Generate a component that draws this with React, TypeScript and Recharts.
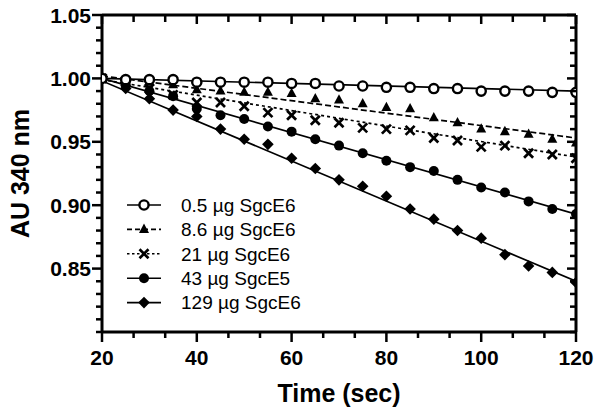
import React from 'react';
import { ComposedChart, Line, Scatter, XAxis, YAxis, Legend } from 'recharts';

const times = [20, 25, 30, 35, 40, 45, 50, 55, 60, 65, 70, 75, 80, 85, 90, 95, 100, 105, 110, 115, 120];
const open05 = [1.0, 0.999, 0.999, 0.999, 0.997, 0.997, 0.997, 0.997, 0.996, 0.996, 0.994, 0.994, 0.993, 0.993, 0.992, 0.992, 0.99, 0.99, 0.99, 0.989, 0.989];
const tri86 = [1.0, 0.999, 0.997, 0.995, 0.991, 0.99, 0.989, 0.989, 0.988, 0.984, 0.983, 0.98, 0.977, 0.976, 0.969, 0.965, 0.96, 0.958, 0.956, 0.952, 0.949];
const cross21 = [1.0, 0.997, 0.992, 0.987, 0.981, 0.981, 0.978, 0.973, 0.971, 0.967, 0.965, 0.961, 0.96, 0.959, 0.953, 0.951, 0.946, 0.947, 0.941, 0.94, 0.937];
const dot43 = [1.0, 0.995, 0.99, 0.986, 0.976, 0.971, 0.968, 0.962, 0.958, 0.952, 0.947, 0.941, 0.935, 0.93, 0.927, 0.92, 0.914, 0.91, 0.903, 0.897, 0.893];
const diam129 = [1.0, 0.992, 0.984, 0.975, 0.97, 0.96, 0.952, 0.948, 0.937, 0.929, 0.92, 0.915, 0.907, 0.897, 0.889, 0.88, 0.874, 0.861, 0.852, 0.847, 0.839];

const fitTimes = [20, 120];
const fit05 = [1.0, 0.99];
const fit86 = [1.002, 0.953];
const fit21 = [0.999, 0.938];
const fit43 = [1.0, 0.893];
const fit129 = [0.998, 0.84];

const seriesNames = ['0.5 µg SgcE6', '8.6 µg SgcE6', '21 µg SgcE6', '43 µg SgcE5', '129 µg SgcE6'];

const xMajorTicks = [20, 40, 60, 80, 100, 120];
const xAllTicks = [20, 26.667, 33.333, 40, 46.667, 53.333, 60, 66.667, 73.333, 80, 86.667, 93.333, 100, 106.667, 113.333, 120];
const yMajorTicks = [0.85, 0.9, 0.95, 1.0, 1.05];
const yAllTicks = [0.8, 0.81, 0.82, 0.83, 0.84, 0.85, 0.86, 0.87, 0.88, 0.89, 0.9, 0.91, 0.92, 0.93, 0.94, 0.95, 0.96, 0.97, 0.98, 0.99, 1.0, 1.01, 1.02, 1.03, 1.04, 1.05];

const FONT = '"Liberation Sans", Arial, Helvetica, sans-serif';
const AXW = 3;

const toPts = (xs: number[], ys: number[]) => xs.map((x, i) => ({ x, y: ys[i] }));

const isMajor = (v: number, majors: number[]) => majors.some((m) => Math.abs(m - v) < 1e-6);

type MarkerKind = 'open' | 'tri' | 'cross' | 'dot' | 'diam';

const Marker = ({ kind, cx, cy }: { kind: MarkerKind; cx: number; cy: number }) => {
  if (cx == null || cy == null || isNaN(cx) || isNaN(cy)) return null;
  switch (kind) {
    case 'open':
      return <circle cx={cx} cy={cy} r={4.6} fill="#fff" stroke="#000" strokeWidth={2.4} />;
    case 'tri':
      return <polygon points={`${cx},${cy - 5.8} ${cx - 5},${cy + 3.5} ${cx + 5},${cy + 3.5}`} fill="#000" />;
    case 'cross':
      return (
        <g stroke="#000" strokeWidth={2.7}>
          <line x1={cx - 4.5} y1={cy - 4.5} x2={cx + 4.5} y2={cy + 4.5} />
          <line x1={cx - 4.5} y1={cy + 4.5} x2={cx + 4.5} y2={cy - 4.5} />
        </g>
      );
    case 'dot':
      return <circle cx={cx} cy={cy} r={5} fill="#000" />;
    case 'diam':
    default:
      return <polygon points={`${cx},${cy - 5.8} ${cx + 5.8},${cy} ${cx},${cy + 5.8} ${cx - 5.8},${cy}`} fill="#000" />;
  }
};

const shapeFor = (kind: MarkerKind) => (props: any) => <Marker kind={kind} cx={props.cx} cy={props.cy} />;

const LeftTick = (props: any) => {
  const { x, y, payload } = props;
  const v = payload.value;
  const major = isMajor(v, yMajorTicks);
  return (
    <g>
      <line x1={x - (major ? 10 : 6)} x2={x} y1={y} y2={y} stroke="#000" strokeWidth={2.5} />
      {major && (
        <text x={x - 11} y={y} dy="0.36em" textAnchor="end" fontFamily={FONT} fontWeight="bold" fontSize={21} fill="#000">
          {v.toFixed(2)}
        </text>
      )}
    </g>
  );
};

const RightTick = (props: any) => {
  const { x, y, payload } = props;
  const major = isMajor(payload.value, yMajorTicks);
  return <line x1={x - (major ? 9 : 6)} x2={x} y1={y} y2={y} stroke="#000" strokeWidth={2.5} />;
};

const BottomTick = (props: any) => {
  const { x, y, payload } = props;
  const v = payload.value;
  const major = isMajor(v, xMajorTicks);
  return (
    <g>
      <line x1={x} x2={x} y1={y} y2={y + (major ? 10 : 6)} stroke="#000" strokeWidth={2.5} />
      {major && (
        <text x={x} y={y + 33} textAnchor="middle" fontFamily={FONT} fontWeight="bold" fontSize={21} fill="#000">
          {String(Math.round(v))}
        </text>
      )}
    </g>
  );
};

const TopTick = (props: any) => {
  const { x, y, payload } = props;
  const major = isMajor(payload.value, xMajorTicks);
  return <line x1={x} x2={x} y1={y} y2={y + (major ? 9 : 7)} stroke="#000" strokeWidth={2.5} />;
};

const legendStyles: { kind: MarkerKind; dash?: string }[] = [
  { kind: 'open' },
  { kind: 'tri', dash: '5 3' },
  { kind: 'cross', dash: '2.5 2.5' },
  { kind: 'dot' },
  { kind: 'diam' },
];

const renderLegend = () => (
  <svg width={200} height={125} style={{ display: 'block', overflow: 'visible' }}>
    {seriesNames.map((name, i) => {
      const cy = 12 + i * 24.4;
      const st = legendStyles[i];
      return (
        <g key={name}>
          <line x1={7} x2={41} y1={cy} y2={cy} stroke="#000" strokeWidth={1.6} strokeDasharray={st.dash} />
          <Marker kind={st.kind} cx={24} cy={cy} />
          <text x={61} y={cy} dy="0.36em" fontFamily={FONT} fontSize={19} fill="#000">
            {name}
          </text>
        </g>
      );
    })}
  </svg>
);

export default function App() {
  return (
    <div style={{ position: 'absolute', left: 0, top: 0, width: 600, height: 412, background: '#fff' }}>
      <ComposedChart width={600} height={412} margin={{ top: 0, right: 0, bottom: 0, left: 0 }}>
        <XAxis
          dataKey="x"
          type="number"
          domain={[20, 120]}
          ticks={xAllTicks}
          interval={0}
          height={80}
          tickSize={0}
          tickMargin={0}
          tickLine={false}
          axisLine={{ stroke: '#000', strokeWidth: AXW }}
          tick={<BottomTick />}
          allowDataOverflow
        />
        <XAxis
          xAxisId="top"
          orientation="top"
          dataKey="x"
          type="number"
          domain={[20, 120]}
          ticks={xAllTicks}
          interval={0}
          height={15}
          tickSize={0}
          tickMargin={0}
          tickLine={false}
          axisLine={{ stroke: '#000', strokeWidth: AXW }}
          tick={<TopTick />}
          allowDataOverflow
        />
        <YAxis
          dataKey="y"
          type="number"
          domain={[0.8, 1.05]}
          ticks={yAllTicks}
          interval={0}
          width={102}
          tickSize={0}
          tickMargin={0}
          tickLine={false}
          axisLine={{ stroke: '#000', strokeWidth: AXW }}
          tick={<LeftTick />}
          allowDataOverflow
          label={{
            value: 'AU 340 nm',
            angle: -90,
            position: 'insideLeft',
            offset: 0,
            dx: 20,
            style: { fontFamily: FONT, fontWeight: 'bold', fontSize: 25, fill: '#000', textAnchor: 'middle' },
          }}
        />
        <YAxis
          yAxisId="right"
          orientation="right"
          dataKey="y"
          type="number"
          domain={[0.8, 1.05]}
          ticks={yAllTicks}
          interval={0}
          width={24}
          tickSize={0}
          tickMargin={0}
          tickLine={false}
          axisLine={{ stroke: '#000', strokeWidth: AXW }}
          tick={<RightTick />}
          allowDataOverflow
        />
        <Legend
          layout="horizontal"
          verticalAlign="middle"
          align="center"
          content={renderLegend}
          wrapperStyle={{ left: 120, top: 193, width: 200, height: 125 }}
        />

        <Line data={toPts(fitTimes, fit05)} dataKey="y" stroke="#000" strokeWidth={1.7} dot={false} activeDot={false} legendType="none" isAnimationActive={false} />
        <Line data={toPts(fitTimes, fit86)} dataKey="y" stroke="#000" strokeWidth={1.7} strokeDasharray="6 3" dot={false} activeDot={false} legendType="none" isAnimationActive={false} />
        <Line data={toPts(fitTimes, fit21)} dataKey="y" stroke="#000" strokeWidth={1.7} strokeDasharray="3 3" dot={false} activeDot={false} legendType="none" isAnimationActive={false} />
        <Line data={toPts(fitTimes, fit43)} dataKey="y" stroke="#000" strokeWidth={1.7} dot={false} activeDot={false} legendType="none" isAnimationActive={false} />
        <Line data={toPts(fitTimes, fit129)} dataKey="y" stroke="#000" strokeWidth={1.7} dot={false} activeDot={false} legendType="none" isAnimationActive={false} />

        <Scatter data={toPts(times, diam129)} dataKey="y" shape={shapeFor('diam')} legendType="none" isAnimationActive={false} />
        <Scatter data={toPts(times, dot43)} dataKey="y" shape={shapeFor('dot')} legendType="none" isAnimationActive={false} />
        <Scatter data={toPts(times, cross21)} dataKey="y" shape={shapeFor('cross')} legendType="none" isAnimationActive={false} />
        <Scatter data={toPts(times, tri86)} dataKey="y" shape={shapeFor('tri')} legendType="none" isAnimationActive={false} />
        <Scatter data={toPts(times, open05)} dataKey="y" shape={shapeFor('open')} legendType="none" isAnimationActive={false} />
      </ComposedChart>
      <div
        style={{
          position: 'absolute',
          left: 102,
          width: 474,
          top: 378,
          textAlign: 'center',
          fontFamily: FONT,
          fontWeight: 'bold',
          fontSize: 25,
          lineHeight: '30px',
          color: '#000',
        }}
      >
        Time (sec)
      </div>
    </div>
  );
}
